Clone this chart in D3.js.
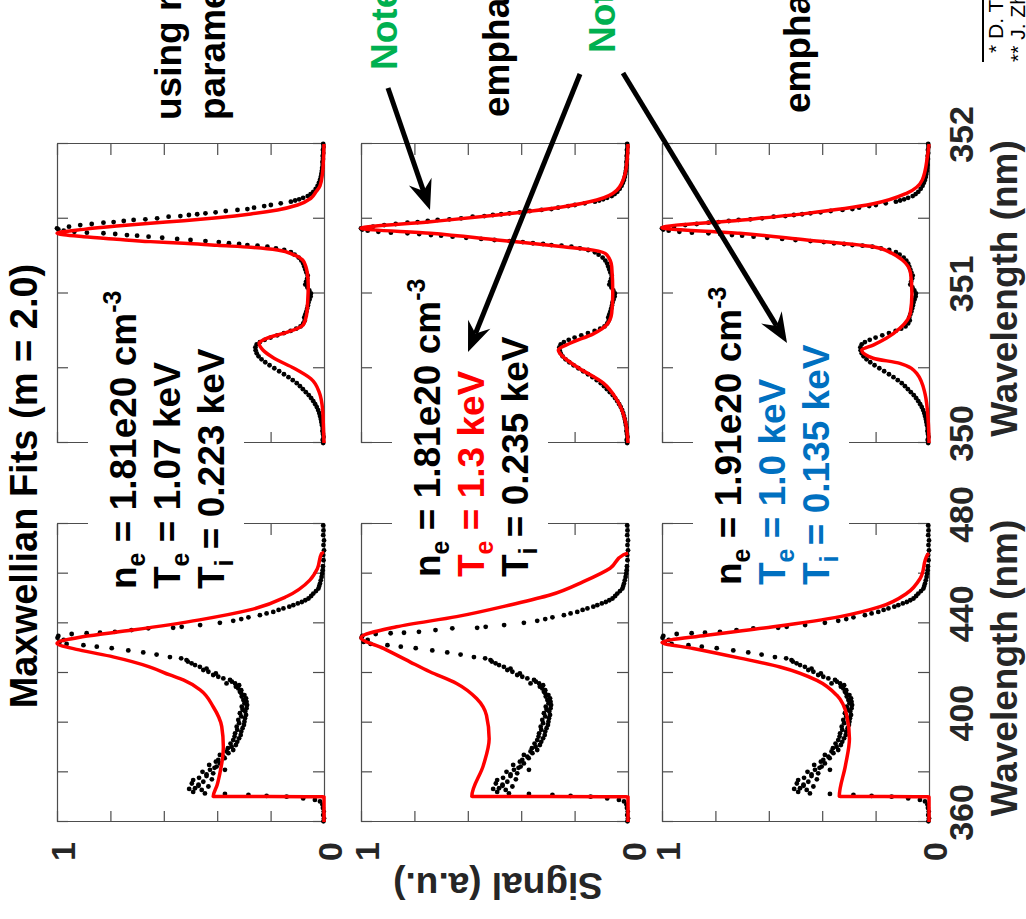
<!DOCTYPE html>
<html><head><meta charset="utf-8">
<script src="https://cdn.jsdelivr.net/npm/d3@7"></script>
<style>
html,body{margin:0;padding:0;background:#fff;}
svg{display:block;}
</style></head><body>
<svg id="chart" width="1026" height="919"></svg>
<script>
// ---------------- DATA ----------------
const epwTicks = [360, 380, 400, 420, 440, 460, 480];
const epwTickLabels = [360, 400, 440, 480];
const iawTicks = [350, 350.5, 351, 351.5, 352];
const iawTickLabels = [350, 351, 352];
const signalTicks = [0, 0.2, 0.4, 0.6, 0.8, 1];
const signalTickLabels = [0, 1];

const densities = ["1.81e20", "1.81e20", "1.91e20"];
const electronTemps = ["1.07", "1.3", "1.0"];
const ionTemps = ["0.223", "0.235", "0.135"];

// measured EPW spectrum [wavelength nm, signal]
const epwData = [
[360.3,0.002],[361.5,0.0],[362.8,0.003],[364.2,0.001],[365.6,0.004],[367.0,0.006],[368.3,0.015],[368.9,0.034],
[369.5,0.078],[370.2,0.14],[370.5,0.215],[370.9,0.283],[371.3,0.371],[371.5,0.446],[372.1,0.49],[372.9,0.458],
[373.3,0.505],[373.6,0.483],[374.3,0.433],[374.6,0.47],[375.0,0.47],[375.5,0.495],[376.2,0.452],[376.9,0.49],
[377.2,0.42],[377.8,0.468],[378.5,0.44],[379.2,0.44],[379.6,0.415],[380.2,0.455],[381.0,0.427],[381.0,0.371],
[381.8,0.41],[382.3,0.402],[383.0,0.43],[383.6,0.39],[384.3,0.405],[385.0,0.396],[385.7,0.372],[386.3,0.377],
[387.0,0.39],[387.7,0.358],[388.4,0.365],[389.0,0.34],[389.7,0.36],[390.3,0.346],[391.0,0.33],[391.6,0.35],
[392.3,0.325],[393.0,0.34],[393.7,0.318],[394.4,0.335],[395.0,0.312],[395.7,0.333],[396.4,0.31],[397.1,0.325],
[397.8,0.305],[398.4,0.327],[399.1,0.3],[399.8,0.318],[400.4,0.298],[401.1,0.321],[401.8,0.296],[402.5,0.31],
[403.1,0.292],[403.8,0.315],[404.5,0.295],[405.2,0.305],[405.8,0.29],[406.4,0.308],[407.1,0.288],[407.8,0.298],
[408.4,0.29],[409.1,0.302],[409.8,0.292],[410.5,0.308],[411.1,0.298],[411.8,0.31],[412.5,0.315],[413.1,0.31],
[413.8,0.321],[414.5,0.33],[415.1,0.318],[415.8,0.333],[415.8,0.365],[416.5,0.345],[417.2,0.352],[417.8,0.377],
[418.5,0.396],[419.2,0.415],[419.8,0.405],[420.5,0.433],[421.2,0.452],[421.8,0.44],[422.5,0.465],[423.2,0.483],
[423.9,0.496],[424.6,0.51],[425.2,0.515],[425.9,0.535],[426.4,0.577],[427.4,0.627],[428.3,0.677],[429.1,0.733],
[430.0,0.795],[430.6,0.851],[431.2,0.901],[431.7,0.964],[432.5,0.99],[433.3,0.975],[434.2,0.998],[434.9,0.995],
[435.7,0.945],[436.0,0.889],[436.2,0.839],[436.6,0.783],[437.3,0.721],[438.0,0.658],[438.2,0.565],[438.6,0.533],
[439.3,0.464],[440.2,0.39],[441.0,0.34],[441.7,0.31],[442.4,0.283],[443.3,0.24],[444.0,0.215],[444.6,0.19],
[445.4,0.17],[446.0,0.152],[446.7,0.13],[447.3,0.115],[448.0,0.098],[448.6,0.083],[449.3,0.07],[450.0,0.058],
[451.0,0.048],[452.0,0.04],[453.0,0.03],[454.0,0.021],[455.0,0.018],[456.0,0.015],[457.3,0.012],[458.7,0.009],
[460.0,0.007],[461.4,0.005],[463.0,0.004],[465.4,0.002],[467.5,0.003],[469.4,0.0],[471.5,0.002],[473.4,0.0],
[475.5,0.003],[477.4,0.002],[479.4,0.003]
];

// measured IAW spectrum [wavelength nm, signal]
const iawData = [
[350.00,0.003],[350.02,0.005],[350.04,0.002],[350.06,0.004],[350.08,0.006],[350.10,0.005],[350.12,0.008],[350.14,0.01],
[350.16,0.012],[350.18,0.015],[350.20,0.018],[350.22,0.022],[350.24,0.027],[350.26,0.033],[350.28,0.04],[350.30,0.048],
[350.32,0.057],[350.34,0.068],[350.36,0.079],[350.38,0.09],[350.40,0.102],[350.42,0.117],[350.44,0.133],[350.46,0.15],
[350.48,0.168],[350.50,0.186],[350.52,0.204],[350.54,0.22],[350.56,0.234],[350.58,0.245],[350.60,0.252],[350.62,0.256],
[350.64,0.257],[350.66,0.252],[350.675,0.24],[350.69,0.222],[350.705,0.2],[350.72,0.175],[350.735,0.15],[350.75,0.125],
[350.765,0.104],[350.78,0.088],[350.80,0.078],[350.82,0.072],[350.84,0.074],[350.86,0.07],[350.88,0.066],[350.90,0.063],
[350.92,0.06],[350.94,0.058],[350.96,0.054],[350.98,0.05],[351.00,0.049],[351.02,0.055],[351.04,0.062],[351.06,0.07],
[351.08,0.067],[351.10,0.063],[351.12,0.061],[351.14,0.066],[351.16,0.07],[351.18,0.074],[351.20,0.078],[351.22,0.085],
[351.24,0.095],[351.26,0.11],[351.276,0.124],[351.291,0.149],[351.302,0.18],[351.313,0.212],[351.32,0.249],[351.324,0.287],
[351.331,0.318],[351.336,0.356],[351.344,0.394],[351.351,0.444],[351.358,0.50],[351.365,0.55],[351.373,0.606],[351.38,0.657],
[351.387,0.70],[351.391,0.738],[351.398,0.782],[351.403,0.826],[351.407,0.888],[351.413,0.935],[351.42,0.975],[351.428,0.995],
[351.436,1.0],[351.447,0.955],[351.458,0.913],[351.465,0.87],[351.474,0.826],[351.478,0.788],[351.485,0.75],[351.492,0.713],
[351.496,0.669],[351.503,0.625],[351.514,0.582],[351.518,0.538],[351.525,0.506],[351.53,0.475],[351.536,0.444],[351.543,0.406],
[351.552,0.368],[351.559,0.324],[351.565,0.287],[351.574,0.262],[351.585,0.224],[351.592,0.199],[351.603,0.162],[351.614,0.124],
[351.622,0.108],[351.63,0.093],[351.64,0.078],[351.652,0.061],[351.665,0.05],[351.68,0.04],[351.70,0.031],[351.72,0.024],
[351.74,0.019],[351.76,0.015],[351.78,0.012],[351.80,0.01],[351.82,0.008],[351.84,0.007],[351.86,0.005],[351.88,0.006],
[351.90,0.004],[351.92,0.005],[351.94,0.003],[351.96,0.004],[351.98,0.002],[352.00,0.003]
];

// Maxwellian fits, EPW
const epwFit1 = [[360,0],[370.2,0],[370.25,0.415],[375,0.40],[379.6,0.39],[385,0.381],[390.3,0.377],[398.4,0.383],
[406.4,0.415],[413.2,0.464],[417.2,0.527],[419.2,0.577],[422.5,0.654],[426.5,0.79],[429.3,0.917],[432.0,1.0],
[434.6,0.905],[437.3,0.717],[441.4,0.466],[445.4,0.278],[450.8,0.14],[457.4,0.053],[462.0,0.025],[468.2,0.009],[468.6,0.0]];
const epwFit2 = [[360,0],[370.2,0],[370.25,0.585],[382.7,0.542],[393.5,0.52],[402.9,0.53],[409.7,0.567],[415.8,0.642],
[420.5,0.742],[424.5,0.817],[429.9,0.916],[434.2,1.0],[438.6,0.867],[442.7,0.642],[447.4,0.442],[451.4,0.292],
[456.8,0.167],[462.2,0.067],[467.6,0.017],[468.3,0.0]];
const epwFit3 = [[360,0],[370.2,0],[370.25,0.336],[382.7,0.313],[393.5,0.298],[402.9,0.308],[411.0,0.345],[417.0,0.42],
[422.4,0.558],[426.0,0.708],[429.9,0.883],[432.3,1.0],[435.2,0.833],[438.6,0.583],[442.7,0.333],[446.7,0.183],
[452.1,0.083],[458.1,0.033],[467.5,0.006],[468.2,0.0]];

// Maxwellian fits, IAW
const iawFit1 = [[350.0,0],[350.10,0.002],[350.22,0.005],[350.34,0.018],[350.43,0.049],[350.50,0.112],[350.567,0.187],
[350.62,0.228],[350.667,0.243],[350.70,0.215],[350.74,0.14],[350.79,0.078],[350.85,0.066],[350.95,0.061],[351.05,0.059],
[351.13,0.062],[351.18,0.068],[351.224,0.08],[351.258,0.112],[351.291,0.174],[351.309,0.274],[351.322,0.40],[351.336,0.525],
[351.347,0.65],[351.363,0.776],[351.38,0.90],[351.403,1.0],[351.429,0.90],[351.451,0.776],[351.47,0.65],[351.487,0.525],
[351.507,0.40],[351.532,0.274],[351.559,0.174],[351.592,0.099],[351.637,0.049],[351.68,0.03],[351.72,0.015],[351.8,0.006],
[351.9,0.002],[352.0,0.0]];
const iawFit2 = [[350.0,0],[350.154,0.011],[350.29,0.042],[350.40,0.092],[350.51,0.192],[350.58,0.245],[350.622,0.261],
[350.667,0.217],[350.73,0.13],[350.79,0.08],[350.87,0.061],[351.0,0.057],[351.18,0.061],[351.26,0.08],[351.29,0.13],
[351.313,0.242],[351.358,0.49],[351.403,0.74],[351.436,1.0],[351.48,0.74],[351.525,0.49],[351.58,0.242],[351.625,0.117],
[351.69,0.042],[351.80,0.011],[351.9,0.003],[352.0,0.0]];
const iawFit3 = [[350.0,0],[350.15,0.003],[350.33,0.015],[350.466,0.046],[350.533,0.109],[350.567,0.209],[350.622,0.252],
[350.655,0.209],[350.70,0.16],[350.767,0.109],[350.868,0.07],[351.0,0.064],[351.135,0.069],[351.224,0.1],[351.27,0.14],
[351.313,0.209],[351.358,0.458],[351.403,0.708],[351.44,1.0],[351.49,0.708],[351.536,0.458],[351.60,0.209],[351.67,0.084],
[351.76,0.025],[351.915,0.006],[352.0,0.0]];

const epwFits = [epwFit1, epwFit2, epwFit3];
const iawFits = [iawFit1, iawFit2, iawFit3];

// ---------------- LAYOUT / STYLE ----------------
const FONT = 'Arial, "Liberation Sans", sans-serif';
const W = 1026, H = 919;
const rowTop = [57, 361, 662];
const rowH = 267;
const TICK = 11;
const AX = "#4d4d4d";
const TXT = "#262626";
const RED = "#ff0000", BLUE = "#0070c0", GREEN = "#00b050";
const textStart = [330, 342, 334];
const lineOffsets = [79, 123, 167];

const svg = d3.select("#chart");
svg.append("rect").attr("width", W).attr("height", H).attr("fill", "#fff");
// the whole figure is rotated by -90 degrees: inner frame is 919 wide x 1026 tall
const g = svg.append("g").attr("transform", `translate(0,${H}) rotate(-90)`);

const xE = d3.scaleLinear().domain([360, 480]).range([97, 395]);
const xI = d3.scaleLinear().domain([350, 352]).range([476, 775]);

function styleAxis(a) {
  a.attr("font-family", FONT).attr("font-size", 34).attr("font-weight", "bold");
  a.selectAll("path").attr("stroke", AX).attr("stroke-width", 1.2);
  a.selectAll("line").attr("stroke", AX).attr("stroke-width", 1.2);
  a.selectAll("text").attr("fill", TXT);
}

const panelsG = g.append("g");
const dataG = g.append("g");
const fitG = g.append("g");
const bgG = g.append("g");
const txtG = g.append("g");

for (let i = 0; i < 3; i++) {
  const top = rowTop[i], bot = top + rowH;
  const y = d3.scaleLinear().domain([0, 1]).range([bot, top]);
  const panels = [
    {x: xE, ticks: epwTicks, labels: epwTickLabels, data: epwData, fit: epwFits[i], ylab: true},
    {x: xI, ticks: iawTicks, labels: iawTickLabels, data: iawData, fit: iawFits[i], ylab: false}
  ];
  panels.forEach(p => {
    const x0 = p.x.range()[0], x1 = p.x.range()[1];
    const b = panelsG.append("g").attr("transform", `translate(0,${bot})`)
      .call(d3.axisBottom(p.x).tickValues(p.ticks).tickSize(-TICK).tickSizeOuter(0).tickPadding(20)
        .tickFormat(d => (i === 2 && p.labels.includes(d)) ? String(d) : ""));
    styleAxis(b);
    b.selectAll("text").attr("dx", 9);
    const t = panelsG.append("g").attr("transform", `translate(0,${top})`)
      .call(d3.axisTop(p.x).tickValues(p.ticks).tickSize(-TICK).tickSizeOuter(0).tickFormat(() => ""));
    styleAxis(t);
    const l = panelsG.append("g").attr("transform", `translate(${x0},0)`)
      .call(d3.axisLeft(y).tickValues(signalTicks).tickSize(-TICK).tickSizeOuter(0).tickPadding(20)
        .tickFormat(d => (p.ylab && signalTickLabels.includes(d)) ? String(d) : ""));
    styleAxis(l);
    l.selectAll("text").attr("dy", "0.5em");
    const r = panelsG.append("g").attr("transform", `translate(${x1},0)`)
      .call(d3.axisRight(y).tickValues(signalTicks).tickSize(-TICK).tickSizeOuter(0).tickFormat(() => ""));
    styleAxis(r);

    dataG.append("g").selectAll("circle").data(p.data).join("circle")
      .attr("cx", d => p.x(d[0])).attr("cy", d => y(d[1])).attr("r", 2.4).attr("fill", "#000");

    fitG.append("path").datum(p.fit)
      .attr("d", d3.line().x(d => p.x(d[0])).y(d => y(d[1])).curve(d3.curveMonotoneX))
      .attr("fill", "none").attr("stroke", RED).attr("stroke-width", 3.5).attr("stroke-linejoin", "round");

    if (i === 2) {
      txtG.append("text").attr("x", (x0 + x1) / 2 + 5).attr("y", 1017).attr("text-anchor", "middle")
        .attr("font-family", FONT).attr("font-size", 37).attr("font-weight", "bold").attr("fill", TXT)
        .text("Wavelength (nm)");
    }
  });

  // white text background
  bgG.append("rect").attr("x", 330).attr("y", top + 31).attr("width", 310).attr("height", 156).attr("fill", "#fff");

  // parameter text
  const teCol = i === 1 ? RED : (i === 2 ? BLUE : "#000");
  const tiCol = i === 2 ? BLUE : "#000";
  const lines = [
    {col: "#000", parts: [["n", 0], ["e", 1], [" = " + densities[i] + " cm", 0], ["-3", 2]]},
    {col: teCol, parts: [["T", 0], ["e", 1], [" = " + electronTemps[i] + " keV", 0]]},
    {col: tiCol, parts: [["T", 0], ["i", 1], [" = " + ionTemps[i] + " keV", 0]]}
  ];
  lines.forEach((ln, k) => {
    const t = txtG.append("text").attr("x", textStart[i]).attr("y", top + lineOffsets[k])
      .attr("font-family", FONT).attr("font-size", 37).attr("font-weight", "bold").attr("fill", ln.col)
      .attr("xml:space", "preserve");
    let shift = 0;
    ln.parts.forEach(([s, kind]) => {
      const target = kind === 1 ? 9 : (kind === 2 ? -15 : 0);
      const ts = t.append("tspan").attr("dy", target - shift).text(s);
      if (kind) ts.attr("font-size", 25);
      shift = target;
    });
  });
}

// title
txtG.append("text").attr("x", 433).attr("y", 37).attr("text-anchor", "middle")
  .attr("font-family", FONT).attr("font-size", 38).attr("font-weight", "bold").attr("fill", "#000")
  .text("Maxwellian Fits (m = 2.0)");

// y label
txtG.append("text").attr("transform", "translate(46,498) rotate(-90)").attr("text-anchor", "middle")
  .attr("font-family", FONT).attr("font-size", 37).attr("font-weight", "bold").attr("fill", TXT)
  .text("Signal (a.u.)");

// side notes (cut off at the figure edge, as in the original slide)
const notes = [
  {u: 799, v: 181, s: "using reported", c: "#000", fs: 37, fw: "bold"},
  {u: 799, v: 225, s: "parameters*", c: "#000", fs: 37, fw: "bold"},
  {u: 849, v: 397, s: "Note:", c: GREEN, fs: 37, fw: "bold"},
  {u: 802, v: 509, s: "emphasizing", c: "#000", fs: 37, fw: "bold"},
  {u: 866, v: 615, s: "Note:", c: GREEN, fs: 37, fw: "bold"},
  {u: 806, v: 810, s: "emphasizing", c: "#000", fs: 37, fw: "bold"},
  {u: 866, v: 1003, s: "* D. Turnbull", c: "#000", fs: 21, fw: "normal"},
  {u: 857, v: 1025, s: "** J. Zhang", c: "#000", fs: 21, fw: "normal"}
];
notes.forEach(n => txtG.append("text").attr("x", n.u).attr("y", n.v).attr("font-family", FONT)
  .attr("font-size", n.fs).attr("font-weight", n.fw).attr("fill", n.c).text(n.s));
txtG.append("line").attr("x1", 857).attr("x2", 930).attr("y1", 983).attr("y2", 983)
  .attr("stroke", "#000").attr("stroke-width", 2);

// arrows
const arrows = [[[831, 388], [709, 430]], [[845, 580], [567, 468]], [[846, 623], [576, 787]]];
arrows.forEach(([s, t]) => {
  const dx = t[0] - s[0], dy = t[1] - s[1], len = Math.hypot(dx, dy);
  const ux = dx / len, uy = dy / len, nx = -uy, ny = ux;
  const L = 30, Wd = 12, notch = 20;
  txtG.append("line").attr("x1", s[0]).attr("y1", s[1])
    .attr("x2", t[0] - ux * notch).attr("y2", t[1] - uy * notch)
    .attr("stroke", "#000").attr("stroke-width", 5);
  const pts = [[t[0], t[1]], [t[0] - ux * L + nx * Wd, t[1] - uy * L + ny * Wd],
    [t[0] - ux * notch, t[1] - uy * notch], [t[0] - ux * L - nx * Wd, t[1] - uy * L - ny * Wd]];
  txtG.append("polygon").attr("points", pts.map(p => p.join(",")).join(" ")).attr("fill", "#000");
});
</script></body></html>
